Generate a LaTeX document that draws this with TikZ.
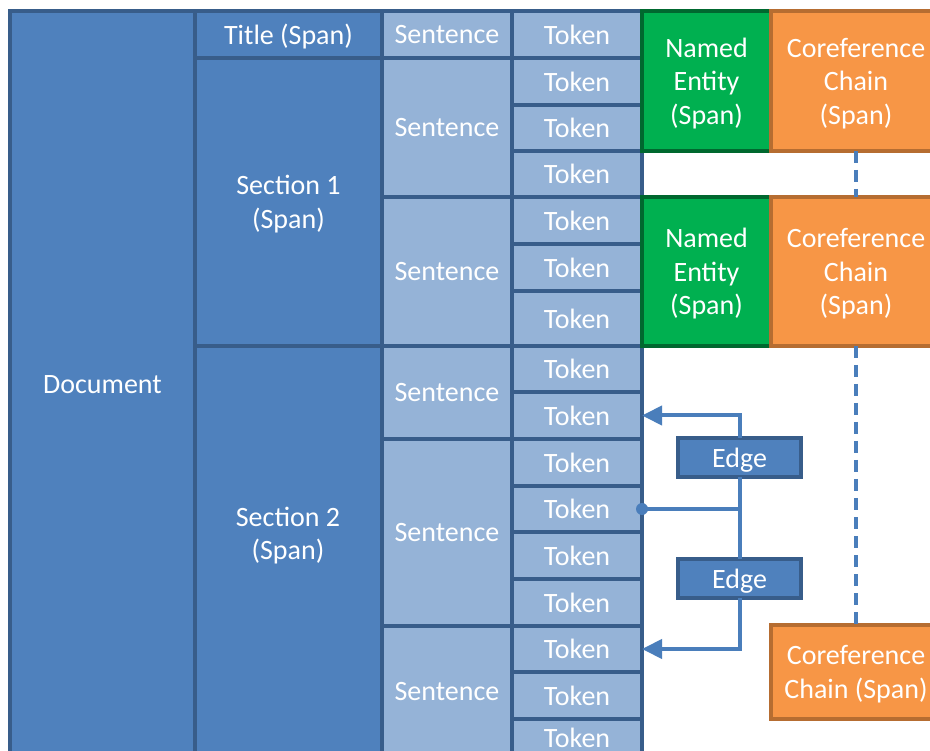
\documentclass[tikz,border=0pt]{standalone}
\usepackage{fontspec}
\setmainfont{Carlito}
\usetikzlibrary{arrows.meta}
\definecolor{docblue}{HTML}{4F81BD}
\definecolor{docborder}{HTML}{385D8A}
\definecolor{lightblue}{HTML}{95B3D7}
\definecolor{nefill}{HTML}{00B050}
\definecolor{neborder}{HTML}{00682F}
\definecolor{cofill}{HTML}{F79646}
\definecolor{coborder}{HTML}{B66D31}
\definecolor{connblue}{HTML}{4A7EBB}
% style, name, x1, y1, x2, y2, text
\newcommand\boxat[7]{%
  \pgfmathsetmacro\bw{#5-#3}\pgfmathsetmacro\bh{#6-#4}%
  \pgfmathsetmacro\bx{(#3+#5)/2}\pgfmathsetmacro\by{(#4+#6)/2}%
  \node[#1, minimum width=\bw pt, minimum height=\bh pt] (#2) at (\bx,\by) {#7};}
\begin{document}
\begin{tikzpicture}[x=1pt,y=-1pt,
  cell/.style={rectangle, inner sep=0pt, outer sep=0pt, line width=3.5pt,
    text=white, align=center, text depth=0pt, font=\fontsize{28}{33.5}\selectfont},
  dark/.style={cell, fill=docblue, draw=docborder},
  lite/.style={cell, fill=lightblue, draw=docborder},
  nebox/.style={cell, fill=nefill, draw=neborder},
  cobox/.style={cell, fill=cofill, draw=coborder},
  lbl/.style={inner sep=0pt, text=white, align=center, text depth=0pt,
    font=\fontsize{28}{33.5}\selectfont},
  conline/.style={draw=connblue, line width=4pt},
  arr/.style={conline, -{Triangle[length=20pt,width=19pt]}},
  dashline/.style={conline, line width=3.8pt, dash pattern=on 12pt off 7pt}]
\useasboundingbox (0,0) rectangle (930,751);
\clip (0,0) rectangle (930,751);
\fill[white] (0,0) rectangle (930,751);
% document level
\boxat{dark}{doc}{10}{11}{195}{758}{Document}
% sections
\boxat{dark}{title}{195}{11}{382}{58}{Title (Span)}
\boxat{dark}{sec1}{195}{58}{382}{346}{Section 1\\(Span)}
\boxat{dark}{sec2}{195}{346}{382}{800}{}
\node[lbl] (sec2lbl) at (288,533.5) {Section 2\\(Span)};
% sentences
\boxat{lite}{s1}{382}{11}{512}{58}{Sentence}
\boxat{lite}{s2}{382}{58}{512}{197}{Sentence}
\boxat{lite}{s3}{382}{197}{512}{346}{Sentence}
\boxat{lite}{s4}{382}{346}{512}{439}{Sentence}
\boxat{lite}{s5}{382}{439}{512}{626}{Sentence}
\boxat{lite}{s6}{382}{626}{512}{756}{Sentence}
% tokens
\foreach \i/\a/\b in {1/11/58, 2/58/105, 3/105/151, 4/151/197, 5/197/244,
  6/244/291, 7/291/346, 8/346/392, 9/392/439, 10/439/486, 11/486/532,
  12/532/579, 13/579/626, 14/626/672, 15/672/719, 16/719/757}
  {\boxat{lite}{t\i}{512}{\a}{642}{\b}{Token}}
% named entities
\boxat{nebox}{ne1}{642}{11}{771}{151}{Named\\Entity\\(Span)}
\boxat{nebox}{ne2}{642}{197}{771}{346}{Named\\Entity\\(Span)}
% coreference chains
\boxat{cobox}{co1}{771}{11}{941}{151}{Coreference\\Chain\\(Span)}
\boxat{cobox}{co2}{771}{197}{941}{346}{Coreference\\Chain\\(Span)}
\boxat{cobox}{co3}{771}{625}{941}{719}{Coreference\\Chain (Span)}
\draw[dashline] (co1.south) -- (co2.north);
\draw[dashline] (co2.south) -- (co3.north);
% edges
\boxat{dark}{e1}{678}{438}{801}{477}{Edge}
\boxat{dark}{e2}{678}{559}{801}{598}{Edge}
\draw[arr] (e1.north) |- (t9.east);
\draw[conline] (e1.south) -- (e2.north);
\draw[conline] (e1.south |- t11.east) -- (t11.east);
\fill[connblue] (t11.east) circle (6pt);
\draw[arr] (e2.south) |- (t14.east);
\end{tikzpicture}
\end{document}
